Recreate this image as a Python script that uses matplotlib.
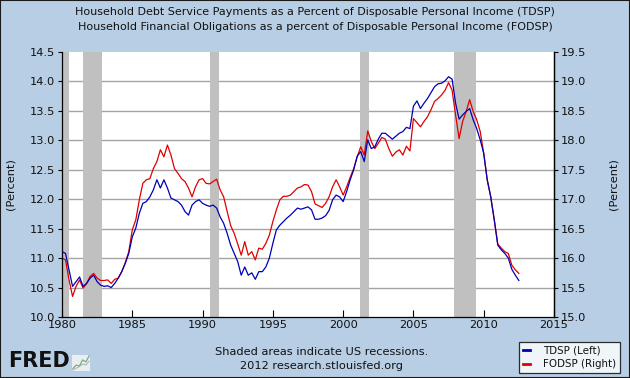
import numpy as np
import pandas as pd
import matplotlib
matplotlib.use("Agg")
import matplotlib.pyplot as plt
from matplotlib.patches import Rectangle
from matplotlib.lines import Line2D

# ---------------- data ----------------
start_year = 1980  # quarterly data from 1980Q1
tdsp = [
    11.11, 11.08, 10.80, 10.52,
    10.60, 10.68, 10.52, 10.57,
    10.66, 10.71, 10.60, 10.54,
    10.52, 10.53, 10.50, 10.57,
    10.66, 10.77, 10.91, 11.08,
    11.36, 11.51, 11.76, 11.93,
    11.96, 12.04, 12.16, 12.33,
    12.19, 12.33, 12.19, 12.02,
    11.99, 11.96, 11.90, 11.79,
    11.73, 11.90, 11.96, 11.99,
    11.93, 11.90, 11.88, 11.90,
    11.85, 11.70, 11.59, 11.42,
    11.22, 11.08, 10.94, 10.71,
    10.85, 10.71, 10.75, 10.64,
    10.77, 10.77, 10.85, 11.00,
    11.25, 11.48, 11.56, 11.62,
    11.68, 11.73, 11.79, 11.85,
    11.83, 11.85, 11.87, 11.82,
    11.66, 11.66, 11.68, 11.72,
    11.81, 11.99, 12.07, 12.04,
    11.96, 12.13, 12.33, 12.50,
    12.73, 12.81, 12.64, 13.01,
    12.86, 12.89, 13.02, 13.12,
    13.12, 13.07, 13.02, 13.07,
    13.12, 13.15, 13.22, 13.20,
    13.58, 13.67, 13.54, 13.63,
    13.71, 13.81, 13.91, 13.96,
    13.97, 14.01, 14.08, 14.04,
    13.63, 13.36, 13.43, 13.49,
    13.54, 13.35, 13.20, 13.01,
    12.78, 12.33, 12.04, 11.65,
    11.22, 11.14, 11.08, 11.00,
    10.81, 10.71, 10.62,
]
fodsp = [
    16.00, 15.97, 15.63, 15.35,
    15.52, 15.63, 15.49, 15.57,
    15.69, 15.74, 15.66, 15.62,
    15.62, 15.63, 15.57, 15.64,
    15.66, 15.77, 15.92, 16.11,
    16.48, 16.65, 16.99, 17.27,
    17.33, 17.35, 17.52, 17.64,
    17.84, 17.72, 17.92, 17.75,
    17.52, 17.44, 17.35, 17.30,
    17.19, 17.04, 17.21, 17.33,
    17.35, 17.27, 17.26, 17.30,
    17.34, 17.16, 17.04, 16.79,
    16.55, 16.42, 16.24, 16.05,
    16.28, 16.05, 16.11, 15.97,
    16.17, 16.15, 16.25, 16.39,
    16.62, 16.82, 16.99, 17.05,
    17.05, 17.07, 17.13, 17.19,
    17.21, 17.25, 17.24, 17.13,
    16.92, 16.89, 16.86, 16.93,
    17.04, 17.21, 17.33, 17.21,
    17.07, 17.21, 17.37, 17.52,
    17.72, 17.89, 17.75, 18.16,
    17.98, 17.86, 17.95, 18.05,
    18.02, 17.86, 17.73, 17.80,
    17.84, 17.75, 17.90, 17.82,
    18.37, 18.30, 18.23, 18.32,
    18.40, 18.52, 18.66, 18.71,
    18.77, 18.85, 18.98, 18.85,
    18.43, 18.03, 18.32, 18.49,
    18.69, 18.49, 18.35, 18.15,
    17.78, 17.33, 17.04, 16.65,
    16.24, 16.17, 16.11, 16.08,
    15.88, 15.80, 15.74,
]
recessions = [(1980.0, 1980.5), (1981.5, 1982.83), (1990.5, 1991.17),
              (2001.17, 2001.83), (2007.92, 2009.42)]
x_ticks = [1980, 1985, 1990, 1995, 2000, 2005, 2010, 2015]
left_ticks = [10.0, 10.5, 11.0, 11.5, 12.0, 12.5, 13.0, 13.5, 14.0, 14.5]
right_ticks = [15.0, 15.5, 16.0, 16.5, 17.0, 17.5, 18.0, 18.5, 19.0, 19.5]
title_lines = ["Household Debt Service Payments as a Percent of Disposable Personal Income (TDSP)",
               "Household Financial Obligations as a percent of Disposable Personal Income (FODSP)"]
legend_labels = ["TDSP (Left)", "FODSP (Right)"]

quarters = pd.period_range(start=f"{start_year}Q1", periods=len(tdsp), freq="Q")
xdec = np.array([p.year + (p.quarter - 1) / 4 for p in quarters])

# ---------------- style ----------------
BG = "#b8cee4"
BLUE = "#0000b4"
RED = "#e00000"
GRID = "#a4a4a4"
REC = "#c0c0c0"
FS = 8.2
TXT = "#111111"

W, H = 630, 378
fig = plt.figure(figsize=(W / 100, H / 100), dpi=100, facecolor=BG)
L, R, T, B = 62, 554, 52, 317
ax = fig.add_axes([L / W, 1 - B / H, (R - L) / W, (B - T) / H])

ax.set_xlim(1980, 2015)
ax.set_ylim(10.0, 14.5)
ax.set_xticks(x_ticks)
ax.set_xticklabels([str(t) for t in x_ticks], fontsize=FS, color=TXT)
ax.set_yticks(left_ticks)
ax.set_yticklabels([f"{t:.1f}" for t in left_ticks], fontsize=FS, color=TXT)
ax.tick_params(axis="x", direction="in", length=5, width=0.8, pad=2)
ax.tick_params(axis="y", direction="out", length=3, width=0.8, pad=2)
ax.spines["top"].set_visible(False)
for side in ["left", "bottom", "right"]:
    ax.spines[side].set_linewidth(0.9)
    ax.spines[side].set_color("black")

ax2 = ax.twinx()
ax2.set_ylim(15.0, 19.5)
ax2.set_yticks(right_ticks)
ax2.set_yticklabels([f"{t:.1f}" for t in right_ticks], fontsize=FS, color=TXT)
ax2.tick_params(axis="y", direction="out", length=3, width=0.8, pad=2)
for side in ["top", "left", "bottom"]:
    ax2.spines[side].set_visible(False)
ax2.spines["right"].set_linewidth(0.9)

# background layer (ax2 drawn below ax)
ax2.patch.set_visible(True)
ax2.patch.set_facecolor("white")
for s, e in recessions:
    ax2.axvspan(s, e, color=REC, lw=0, zorder=1)
for yv in right_ticks[1:-1]:
    ax2.axhline(yv, color=GRID, lw=1.0, zorder=0.5)

l2, = ax2.plot(xdec, fodsp, color=RED, lw=0.9, zorder=3)
l1, = ax.plot(xdec, tdsp, color=BLUE, lw=0.9, zorder=3)
ax.set_zorder(ax2.get_zorder() + 1)
ax.patch.set_visible(False)

ax.set_ylabel("(Percent)", fontsize=FS, color=TXT, labelpad=10)
ax2.set_ylabel("(Percent)", fontsize=FS, color=TXT, labelpad=16)

# titles
fig.text(0.5, 1 - 12 / H, title_lines[0], ha="center", va="center", fontsize=8.05, color=TXT)
fig.text(0.5, 1 - 27 / H, title_lines[1], ha="center", va="center", fontsize=8.05, color=TXT)

# footer
fig.text(322 / W, 1 - 352 / H, "Shaded areas indicate US recessions.", ha="center", va="center",
         fontsize=FS, color=TXT)
fig.text(322 / W, 1 - 366 / H, "2012 research.stlouisfed.org", ha="center", va="center",
         fontsize=FS, color=TXT)

# FRED logo
fig.text(8 / W, 1 - 361 / H, "FRED", ha="left", va="center", fontsize=15, fontweight="bold",
         color=TXT, family="DejaVu Sans")
icon = fig.add_axes([72 / W, 1 - 371 / H, 18 / W, 16 / H])
icon.set_facecolor("#e8eef2")
icon.plot([0, 1, 2, 3, 4, 5], [0.5, 1.2, 1.0, 2.2, 1.8, 3.0], color="#7aa07a", lw=0.8)
icon.plot([0, 1, 2, 3, 4, 5], [0.2, 0.6, 0.9, 1.4, 1.2, 2.0], color="#9ab09a", lw=0.6)
icon.set_xticks([]); icon.set_yticks([])
for sp in icon.spines.values():
    sp.set_visible(False)

# legend
leg = fig.legend([Line2D([], [], color=BLUE, lw=2), Line2D([], [], color=RED, lw=2)],
                 legend_labels,
                 loc="upper left", bbox_to_anchor=(519 / W, 1 - 342 / H),
                 fontsize=7.4, frameon=True, fancybox=False, handlelength=0.7,
                 handletextpad=1.3, borderpad=0.35, borderaxespad=0, labelspacing=0.35,
                 )
leg.get_frame().set_edgecolor("black")
leg.get_frame().set_linewidth(0.9)
leg.get_frame().set_facecolor("white")
for t in leg.get_texts():
    t.set_color(TXT)

# outer border
fig.patches.append(Rectangle((0, 0), 1, 1, transform=fig.transFigure, fill=False,
                             edgecolor="#1a1a1a", lw=1.5))

fig.savefig("out.png", dpi=100, facecolor=BG)
